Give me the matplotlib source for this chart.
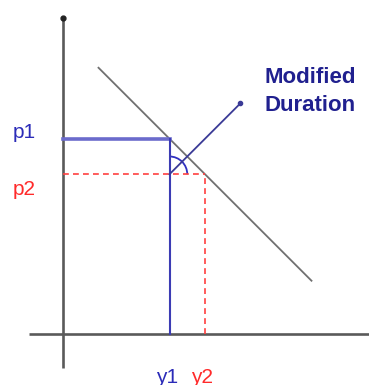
import numpy as np
import matplotlib.pyplot as plt
from matplotlib.patches import Arc

# 价格-收益率示意图 (数据单位)
y_vals = [3.0, 4.0]          # y1, y2
y_labels = ['y1', 'y2']
p_labels = ['p1', 'p2']
curve_x = [1.0, 7.0]         # 价格线端点
curve_p = [7.5, 1.5]
intercept = 8.5              # p = 8.5 - y
p_vals = [intercept - v for v in y_vals]
arrow_end = (5.0, 6.5)
label_color = ['#2b2bb8', '#ff2a2a']

fig = plt.figure(figsize=(3.69, 3.85), dpi=100)
ax = fig.add_axes([0, 0, 1, 1])
ax.set_xlim(-1.775, 8.62)
ax.set_ylim(-1.437, 9.408)
ax.set_aspect('equal')
ax.set_axis_off()

# 坐标轴
ax.plot([-0.96, 8.62], [0, 0], color='#5a5a5a', lw=1.9, solid_capstyle='butt')
ax.plot([0, 0], [-0.96, 8.9], color='#5a5a5a', lw=1.9, solid_capstyle='butt')
ax.plot([0], [8.9], 'o', color='#222222', ms=3.5)

# 价格线
ax.plot(curve_x, curve_p, color='#707070', lw=1.3)

# p1 / y1
ax.plot([0, y_vals[0]], [p_vals[0], p_vals[0]], color='#6b6bcc', lw=2.6)
ax.plot([y_vals[0], y_vals[0]], [0, p_vals[0]], color='#3c3cb4', lw=1.5)

# p2 / y2 虚线
ax.plot([0, y_vals[1]], [p_vals[1], p_vals[1]], color='#ff4040', lw=1.2,
        dashes=(3.5, 2.5))
ax.plot([y_vals[1], y_vals[1]], [0, p_vals[1]], color='#ff4040', lw=1.2,
        dashes=(3.5, 2.5))

# 久期箭头和角度弧
ax.plot([y_vals[0], arrow_end[0]], [p_vals[1], arrow_end[1]], color='#3a3a96', lw=1.3)
ax.plot([arrow_end[0]], [arrow_end[1]], 'o', color='#3a3a96', ms=3)
ax.add_patch(Arc((y_vals[0], p_vals[1]), 1.0, 1.0, theta1=0, theta2=90,
                 color='#3030c0', lw=1.3))

ax.text(5.69, 7.07, 'Modified', color='#20208f', fontsize=16, fontweight='bold',
        family='Liberation Sans', ha='left', va='baseline')
ax.text(5.69, 6.28, 'Duration', color='#20208f', fontsize=16, fontweight='bold',
        family='Liberation Sans', ha='left', va='baseline')

# 标签
p_text_y = [5.52, 3.92]
for lab, ty, c in zip(p_labels, p_text_y, label_color):
    ax.text(-1.41, ty, lab, color=c, fontsize=15, family='Liberation Sans',
            ha='left', va='baseline')
for lab, v, c in zip(y_labels, y_vals, label_color):
    ax.text(v - 0.08, -1.38, lab, color=c, fontsize=15, family='Liberation Sans',
            ha='center', va='baseline')

fig.savefig('out.png', dpi=100)
